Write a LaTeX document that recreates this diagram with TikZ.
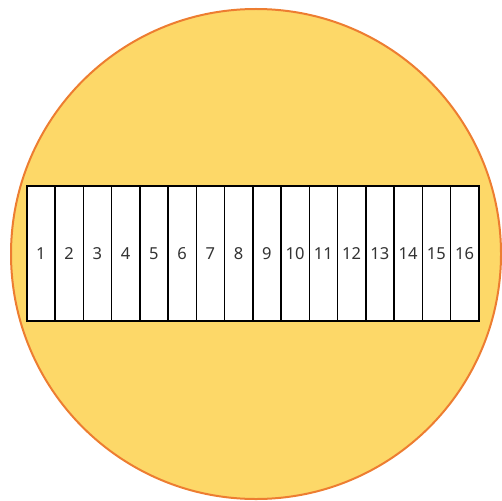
\documentclass[tikz,border=0pt]{standalone}
\usepackage{fontspec}
\setmainfont{Noto Sans}
\definecolor{sunfill}{HTML}{FDD868}
\definecolor{sunedge}{HTML}{ED7D31}
\definecolor{txt}{HTML}{333333}
\begin{document}
\begin{tikzpicture}[x=1pt,y=-1pt,
  cell/.style={draw=black,line width=1.5pt,fill=white,minimum width=28.25pt,minimum height=135pt,inner sep=0pt,anchor=north west,
    font=\fontsize{16.5}{19}\selectfont,text=txt}]
\useasboundingbox (0,0) rectangle (502,500);
\node[circle,draw=sunedge,fill=sunfill,line width=2pt,minimum size=490pt,inner sep=0pt] (sun) at (256,254) {};
\foreach \i in {1,...,16}{
  \node[cell] (c\i) at ({26+28.25*(\i-1)},185) {\i};
}
\end{tikzpicture}
\end{document}
